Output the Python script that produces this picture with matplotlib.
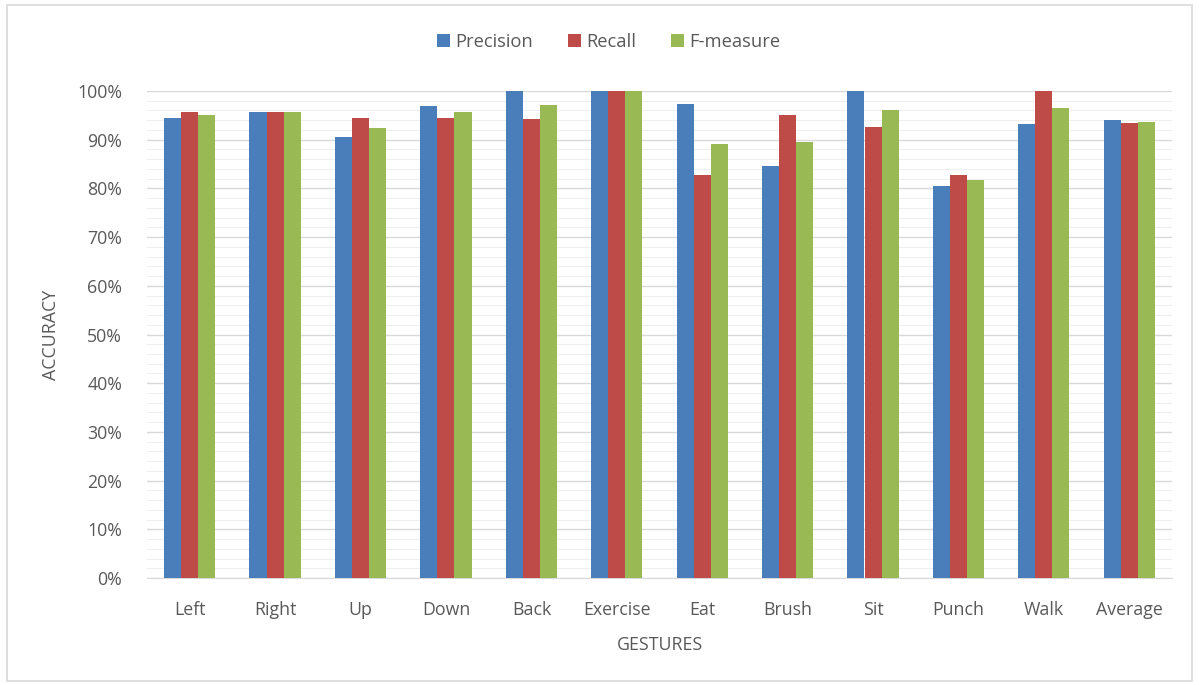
import matplotlib
matplotlib.use("Agg")
import matplotlib.pyplot as plt
from matplotlib.patches import Rectangle
from matplotlib.ticker import MultipleLocator, PercentFormatter
import numpy as np

plt.rcParams['font.family'] = ['Open Sans', 'DejaVu Sans']

gestures = ["Left", "Right", "Up", "Down", "Back", "Exercise", "Eat",
            "Brush", "Sit", "Punch", "Walk", "Average"]
precision = [94.5, 95.6, 90.6, 96.9, 100.0, 100.0, 97.4, 84.5, 100.0, 80.5, 93.2, 94.0]
recall = [95.7, 95.6, 94.5, 94.5, 94.3, 100.0, 82.7, 95.1, 92.6, 82.8, 100.0, 93.4]
f_measure = [95.1, 95.6, 92.5, 95.7, 97.1, 100.0, 89.2, 89.5, 96.2, 81.7, 96.5, 93.7]

series = [("Precision", precision, "#4A7EBB"),
          ("Recall", recall, "#BE4B48"),
          ("F-measure", f_measure, "#98B954")]

text_color = "#595959"
fs = 12.8

W, H = 1199, 685
fig = plt.figure(figsize=(W / 100, H / 100), dpi=100)
fig.patch.set_facecolor("white")

# light outer frame around the chart area
fig.patches.append(Rectangle((7 / W, 4 / H), (W - 14) / W, (H - 9) / H,
                             transform=fig.transFigure, fill=False,
                             edgecolor="#D9D9D9", linewidth=1.2))

ax = fig.add_axes([147 / W, (H - 578) / H, (1172 - 147) / W, (578 - 91) / H])

x = np.arange(len(gestures))
bw = 0.2
for k, (name, vals, col) in enumerate(series):
    ax.bar(x + (k - 1) * bw, vals, width=bw, color=col, label=name, zorder=3)

ax.set_xlim(-0.5, len(gestures) - 0.5)
ax.set_ylim(0, 100)
ax.yaxis.set_major_locator(MultipleLocator(10))
ax.yaxis.set_minor_locator(MultipleLocator(2))
ax.yaxis.set_major_formatter(PercentFormatter(decimals=0))
ax.grid(axis="y", which="major", color="#D9D9D9", linewidth=1.0, zorder=0)
ax.grid(axis="y", which="minor", color="#EFEFEF", linewidth=0.8, zorder=0)
ax.set_axisbelow(True)

for side in ["top", "right", "left"]:
    ax.spines[side].set_visible(False)
ax.spines["bottom"].set_color("#D9D9D9")

ax.set_xticks(x)
ax.set_xticklabels(gestures)
ax.tick_params(axis="both", which="both", length=0, colors=text_color, labelsize=fs)
ax.tick_params(axis="x", pad=16.5)
ax.tick_params(axis="y", pad=18)

ax.set_xlabel("GESTURES", color=text_color, fontsize=fs, labelpad=12)
ax.set_ylabel("ACCURACY", color=text_color, fontsize=fs, labelpad=12)

leg = fig.legend(loc="center", bbox_to_anchor=(609 / W, 1 - 42 / H), ncol=3,
                 frameon=False, fontsize=13.2, handlelength=0.7, handleheight=0.7,
                 handletextpad=0.3, columnspacing=1.9)
for t in leg.get_texts():
    t.set_color(text_color)

fig.savefig("out.png", dpi=100, facecolor="white")
